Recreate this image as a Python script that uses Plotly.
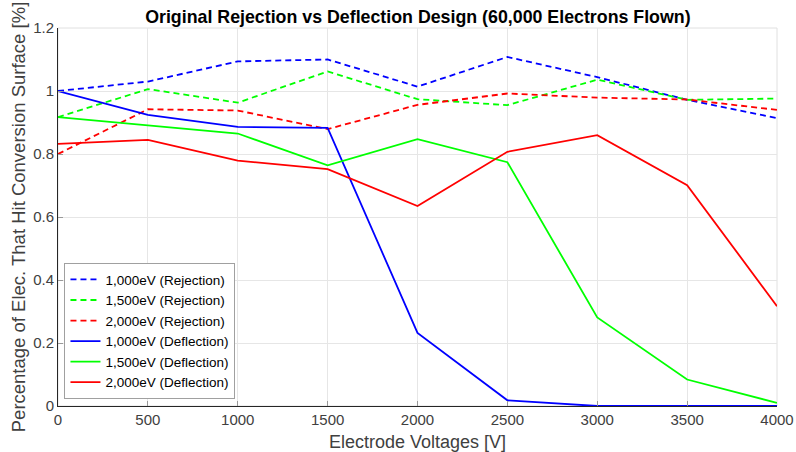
import plotly.graph_objects as go

voltages = [0, 500, 1000, 1500, 2000, 2500, 3000, 3500, 4000]

rej_1000 = [1.0, 1.030, 1.094, 1.100, 1.014, 1.108, 1.044, 0.972, 0.914]
rej_1500 = [0.917, 1.006, 0.963, 1.062, 0.974, 0.955, 1.036, 0.972, 0.976]
rej_2000 = [0.800, 0.942, 0.938, 0.879, 0.956, 0.992, 0.979, 0.973, 0.940]
def_1000 = [1.0, 0.924, 0.886, 0.883, 0.232, 0.018, 0.0, 0.0, 0.0]
def_1500 = [0.917, 0.891, 0.865, 0.764, 0.847, 0.774, 0.281, 0.084, 0.010]
def_2000 = [0.832, 0.845, 0.779, 0.752, 0.635, 0.807, 0.860, 0.701, 0.317]

series = [
    ("1,000eV (Rejection)", rej_1000, "#0000ff", "6px,4px"),
    ("1,500eV (Rejection)", rej_1500, "#00ff00", "6px,4px"),
    ("2,000eV (Rejection)", rej_2000, "#ff0000", "6px,4px"),
    ("1,000eV (Deflection)", def_1000, "#0000ff", "solid"),
    ("1,500eV (Deflection)", def_1500, "#00ff00", "solid"),
    ("2,000eV (Deflection)", def_2000, "#ff0000", "solid"),
]

fig = go.Figure()
for name, vals, color, dash in series:
    fig.add_trace(go.Scatter(x=voltages, y=vals, mode='lines', name=name,
                             line={'color': color, 'width': 1.8, 'dash': dash}))

font = "Liberation Sans, Arial, sans-serif"
fig.update_layout(
    width=796, height=452,
    margin={'l': 58, 'r': 19, 't': 28, 'b': 46, 'autoexpand': False},
    paper_bgcolor='white', plot_bgcolor='white',
    font={'family': font, 'color': '#262626'},
    title={
        'text': '<b>Original Rejection vs Deflection Design (60,000 Electrons Flown)</b>',
        'font': {'size': 17.8, 'color': '#000000'},
        'x': 0.525, 'xanchor': 'center', 'y': 0.962, 'yanchor': 'middle'
    },
    legend={
        'x': 0.009, 'y': 0.018, 'xanchor': 'left', 'yanchor': 'bottom',
        'bgcolor': 'white', 'bordercolor': '#a0a0a0', 'borderwidth': 1,
        'font': {'size': 13.5, 'color': '#000000'},
        'tracegroupgap': 0, 'itemwidth': 30,
    },
    showlegend=True,
)
fig.update_xaxes(
    range=[0, 4000], tickvals=voltages, ticks='inside', ticklen=5, tickcolor='#999',
    showgrid=True, gridcolor='#e6e6e6', showline=True, linecolor='#262626', mirror=False,
    zeroline=False, tickfont={'size': 15, 'color': '#404040'}, automargin=False,
    title={'text': 'Electrode Voltages [V]', 'font': {'size': 18, 'color': '#404040'}, 'standoff': 10},
)
fig.update_yaxes(
    range=[0, 1.2], tickvals=[0, 0.2, 0.4, 0.6, 0.8, 1.0, 1.2],
    ticktext=['0', '0.2', '0.4', '0.6', '0.8', '1', '1.2'],
    ticks='inside', ticklen=5, tickcolor='#999',
    showgrid=True, gridcolor='#e6e6e6', showline=True, linecolor='#262626',
    zeroline=False, tickfont={'size': 15, 'color': '#404040'}, automargin=False,
    title={'text': 'Percentage of Elec. That Hit Conversion Surface [%]',
           'font': {'size': 18.5, 'color': '#404040'}, 'standoff': 2},
)
# light box on top/right like the reference
fig.add_shape(type='rect', xref='paper', yref='paper', x0=0, y0=0, x1=1, y1=1,
              line={'color': '#e0e0e0', 'width': 1}, layer='below')

fig.write_html("out.html", config={'displayModeBar': False},
               post_script="document.body.style.margin='0';")
